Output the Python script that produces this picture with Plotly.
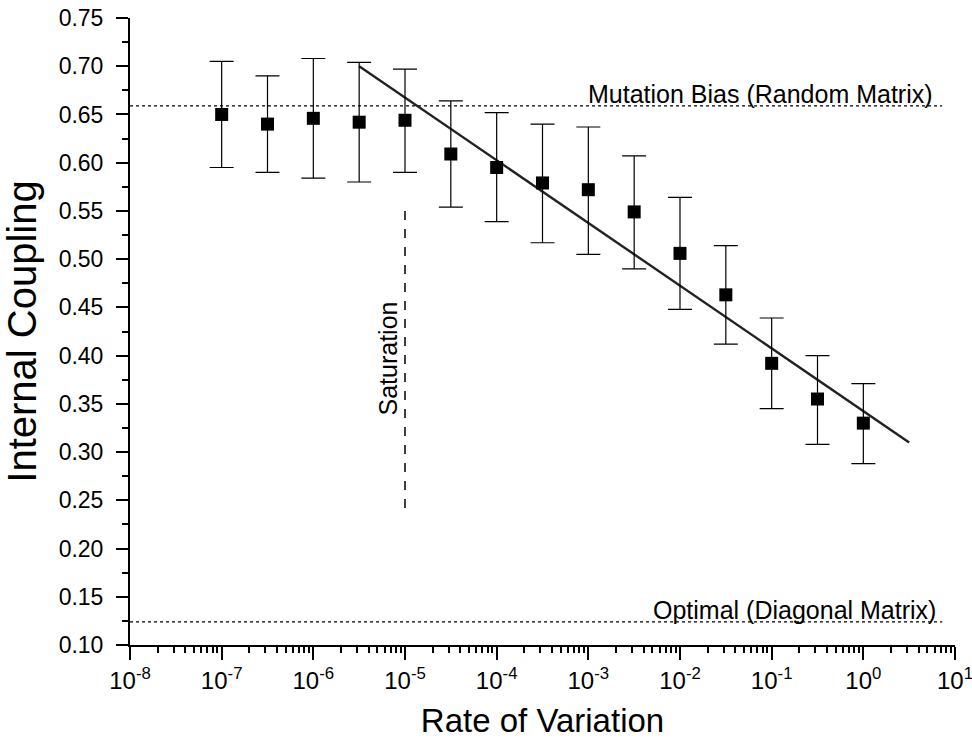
import numpy as np
import plotly.graph_objects as go

# measured points (rate of variation vs internal coupling)
rate = [1e-7, 10**-6.5, 1e-6, 10**-5.5, 1e-5, 10**-4.5, 1e-4, 10**-3.5,
        1e-3, 10**-2.5, 1e-2, 10**-1.5, 1e-1, 10**-0.5, 1e0]
coupling = [0.650, 0.640, 0.646, 0.642, 0.644, 0.609, 0.595, 0.579,
            0.572, 0.549, 0.506, 0.463, 0.392, 0.355, 0.330]
err_hi = [0.705, 0.690, 0.708, 0.704, 0.697, 0.664, 0.652, 0.640,
          0.637, 0.607, 0.564, 0.514, 0.439, 0.400, 0.371]
err_lo = [0.595, 0.590, 0.584, 0.580, 0.590, 0.554, 0.539, 0.517,
          0.505, 0.490, 0.448, 0.412, 0.345, 0.308, 0.288]

# linear fit in log space
fit_x = [10**-5.5, 10**0.5]
fit_y = [0.700, 0.310]

# reference levels
mutation_bias = 0.659
optimal = 0.124
ref_x = [1e-8, 10**0.86]

# saturation marker
sat_x = 1e-5
sat_y = [0.242, 0.554]

x_ticks = [1e-8, 1e-7, 1e-6, 1e-5, 1e-4, 1e-3, 1e-2, 1e-1, 1e0, 1e1]
x_labels = ["10<sup>%d</sup>" % e for e in range(-8, 2)]

font = "Liberation Sans"

up = [h - c for h, c in zip(err_hi, coupling)]
down = [c - l for c, l in zip(coupling, err_lo)]

fig = go.Figure()

fig.add_trace(go.Scatter(x=ref_x, y=[mutation_bias] * 2, mode="lines",
                         line=dict(color="black", width=1.3, dash="dot")))
fig.add_trace(go.Scatter(x=ref_x, y=[optimal] * 2, mode="lines",
                         line=dict(color="black", width=1.3, dash="dot")))
fig.add_trace(go.Scatter(x=[sat_x, sat_x], y=sat_y, mode="lines",
                         line=dict(color="black", width=1.5, dash="dash")))
fig.add_trace(go.Scatter(x=fit_x, y=fit_y, mode="lines",
                         line=dict(color="#222222", width=2.4)))
fig.add_trace(go.Scatter(
    x=rate, y=coupling, mode="markers",
    marker=dict(symbol="square", size=13, color="black"),
    error_y=dict(type="data", symmetric=False, array=up, arrayminus=down,
                 color="black", thickness=1.2, width=12),
))

fig.add_annotation(x=0.78, y=mutation_bias, xref="x", yref="y",
                   text="Mutation Bias (Random Matrix)", showarrow=False,
                   xanchor="right", yanchor="bottom", yshift=-4,
                   font=dict(family=font, size=25, color="black"))
fig.add_annotation(x=0.81, y=optimal, xref="x", yref="y",
                   text="Optimal (Diagonal Matrix)", showarrow=False,
                   xanchor="right", yanchor="bottom", yshift=-4,
                   font=dict(family=font, size=25, color="black"))
fig.add_annotation(x=np.log10(sat_x), y=0.397, xref="x", yref="y",
                   text="Saturation", showarrow=False, textangle=-90,
                   xshift=-17, font=dict(family=font, size=25, color="black"))

fig.update_layout(
    width=972, height=746,
    margin=dict(l=130, r=17, t=18, b=101),
    paper_bgcolor="white", plot_bgcolor="white",
    showlegend=False,
    font=dict(family=font, color="black"),
)

fig.update_xaxes(
    type="log", range=[-8, 1], automargin=False,
    tickvals=x_ticks, ticktext=x_labels, ticklabeloverflow="allow",
    ticks="outside", ticklen=13, tickwidth=2, tickcolor="black",
    minor=dict(ticks="outside", ticklen=6, tickwidth=2, tickcolor="black",
               dtick="D1", showgrid=False),
    showline=True, linecolor="black", linewidth=2,
    showgrid=False, zeroline=False,
    tickfont=dict(family=font, size=24),
    title=dict(text="Rate of Variation", font=dict(family=font, size=33),
               standoff=16),
)
fig.update_yaxes(
    range=[0.10, 0.75], dtick=0.05, tickformat=".2f", automargin=False,
    ticklabeloverflow="allow",
    ticks="outside", ticklen=12, tickwidth=2, tickcolor="black",
    minor=dict(ticks="outside", ticklen=6, tickwidth=2, tickcolor="black",
               dtick=0.025, showgrid=False),
    showline=True, linecolor="black", linewidth=2,
    showgrid=False, zeroline=False,
    tickfont=dict(family=font, size=23),
    ticklabelstandoff=8,
    title=dict(text="Internal Coupling", font=dict(family=font, size=40),
               standoff=15),
)

# drop the default body margin so the figure sits at the page corner
fig.write_html("out.html", config={"displayModeBar": False},
               post_script="document.body.style.margin = '0';")
